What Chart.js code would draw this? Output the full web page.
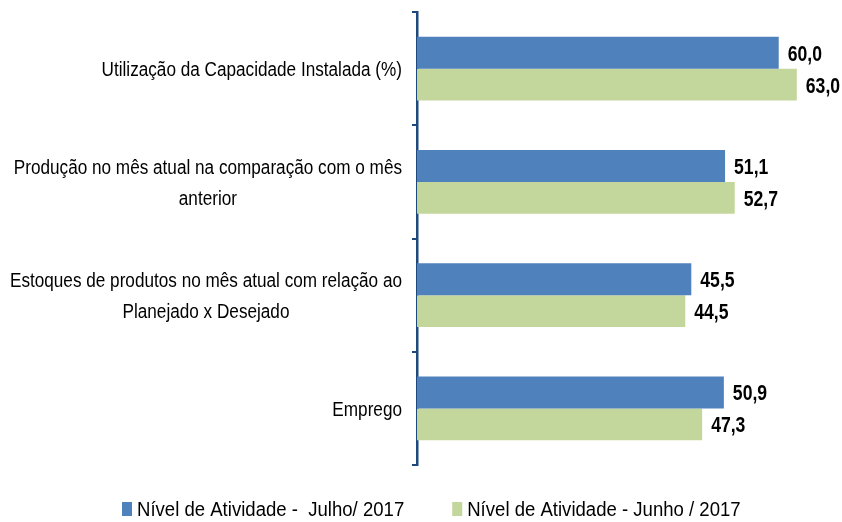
<!DOCTYPE html>
<html>
<head>
<meta charset="utf-8">
<script src="https://cdn.jsdelivr.net/npm/chart.js@4/dist/chart.umd.min.js"></script>
<style>
  html, body { margin: 0; padding: 0; background: #ffffff; }
  #wrap { width: 842px; height: 522px; }
</style>
</head>
<body>
<div id="wrap"><canvas id="c" width="842" height="522"></canvas></div>
<script>
const categories = [
  ["Utilização da Capacidade Instalada (%)"],
  ["Produção no mês atual na comparação com o mês", "anterior"],
  ["Estoques de produtos no mês atual com relação ao", "Planejado x Desejado"],
  ["Emprego"]
];
const seriesNames = ["Nível de Atividade -  Julho/ 2017", "Nível de Atividade - Junho / 2017"];
const julho2017 = [60.0, 51.1, 45.5, 50.9];
const junho2017 = [63.0, 52.7, 44.5, 47.3];

const FONT = "'Liberation Sans', Arial, sans-serif";
const AXIS_COLOR = '#1F497D';

// draw horizontally condensed text (Calibri-like look)
function condensedText(ctx, txt, x, y, sx) {
  ctx.save();
  ctx.translate(x, y);
  ctx.scale(sx, 1);
  ctx.fillText(txt, 0, 0);
  ctx.restore();
}

const valueLabels = {
  id: 'valueLabels',
  afterDatasetsDraw(chart) {
    const ctx = chart.ctx;
    ctx.save();
    ctx.font = "bold 22px " + FONT;
    ctx.fillStyle = '#000000';
    ctx.textAlign = 'left';
    ctx.textBaseline = 'middle';
    chart.data.datasets.forEach((ds, di) => {
      const meta = chart.getDatasetMeta(di);
      meta.data.forEach((bar, i) => {
        const txt = ds.data[i].toFixed(1).replace('.', ',');
        condensedText(ctx, txt, bar.x + 9, bar.y + 2, 0.8);
      });
    });
    ctx.restore();
  }
};

const categoryLabels = {
  id: 'categoryLabels',
  afterDraw(chart) {
    const ctx = chart.ctx;
    const ys = chart.scales.y;
    const lineH = 31;
    const rightEdge = 402;
    const sx = 0.88;
    ctx.save();
    ctx.font = "19.5px " + FONT;
    ctx.fillStyle = '#000000';
    ctx.textAlign = 'center';
    ctx.textBaseline = 'middle';
    chart.data.labels.forEach((lines, i) => {
      const yc = ys.getPixelForValue(i);
      const w = Math.max(...lines.map(l => ctx.measureText(l).width)) * sx;
      const cx = rightEdge - w / 2;
      const y0 = yc - (lines.length - 1) * lineH / 2;
      lines.forEach((l, k) => condensedText(ctx, l, cx, y0 + k * lineH + 2, sx));
    });
    ctx.restore();
  }
};

const bottomLegend = {
  id: 'bottomLegend',
  afterDraw(chart) {
    const ctx = chart.ctx;
    const sx = 0.928;
    ctx.save();
    ctx.font = "20px " + FONT;
    ctx.textBaseline = 'middle';
    ctx.textAlign = 'left';
    let x = 122;
    const yc = 509;
    chart.data.datasets.forEach((ds) => {
      ctx.fillStyle = ds.backgroundColor;
      ctx.fillRect(x, yc - 7, 10, 14);
      ctx.fillStyle = '#000000';
      condensedText(ctx, ds.label, x + 15, yc + 1, sx);
      x = x + 15 + ctx.measureText(ds.label).width * sx + 48;
    });
    ctx.restore();
  }
};

new Chart(document.getElementById('c'), {
  type: 'bar',
  data: {
    labels: categories,
    datasets: [
      { label: seriesNames[0], data: julho2017, backgroundColor: '#4F81BD', borderWidth: 0 },
      { label: seriesNames[1], data: junho2017, backgroundColor: '#C3D69B', borderWidth: 0 }
    ]
  },
  options: {
    indexAxis: 'y',
    responsive: false,
    animation: false,
    devicePixelRatio: 1,
    barPercentage: 1.0,
    categoryPercentage: 0.565,
    layout: { padding: { top: 12, right: 3, bottom: 57, left: 0 } },
    plugins: {
      legend: { display: false },
      tooltip: { enabled: false }
    },
    scales: {
      x: { display: false, min: 0, max: 70 },
      y: {
        position: 'left',
        afterFit(scale) { scale.width = 417; },
        border: { display: true, color: AXIS_COLOR, width: 2.5 },
        grid: { display: true, drawOnChartArea: false, drawTicks: true, tickLength: 5, color: AXIS_COLOR, lineWidth: 2, offset: true },
        ticks: { display: false }
      }
    }
  },
  plugins: [valueLabels, categoryLabels, bottomLegend]
});
</script>
</body>
</html>
